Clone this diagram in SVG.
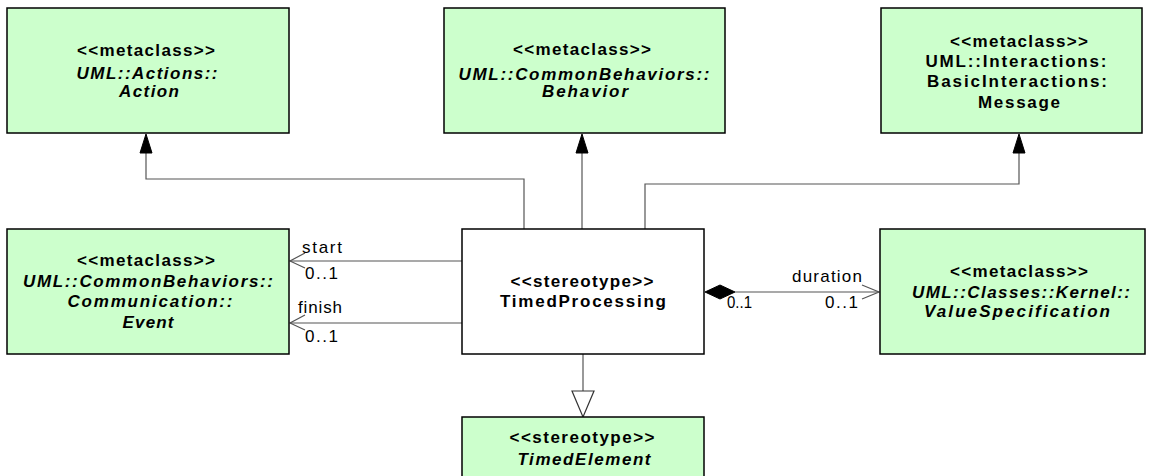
<svg xmlns="http://www.w3.org/2000/svg" width="1149" height="476" viewBox="0 0 1149 476">
<style>
.box{fill:#CCFFCC;stroke:#000;stroke-width:1.5}
.wbox{fill:#fff;stroke:#000;stroke-width:1.5}
.t{font-family:"Liberation Sans",Arial,sans-serif;font-size:17px;font-weight:bold;text-anchor:middle;fill:#000}
.i{font-style:italic}
.lbl{font-family:"Liberation Sans",Arial,sans-serif;font-size:17px;fill:#000}
.ln{fill:none;stroke:#555;stroke-width:1.2}
.fill{fill:#000;stroke:#000;stroke-width:1}
.hollow{fill:#fff;stroke:#333;stroke-width:1.2}
</style>
<rect width="1149" height="476" fill="#fff"/>
<g id="connectors">
  <polyline class="ln" points="524,229 524,179 146,179 146,150"/>
  <polygon class="fill" points="146,134 140,153 152,153"/>
  <line class="ln" x1="582" y1="229" x2="582" y2="150"/>
  <polygon class="fill" points="582,134 576,153 588,153"/>
  <polyline class="ln" points="645,229 645,184 1019,184 1019,150"/>
  <polygon class="fill" points="1019,134 1013,153 1025,153"/>
  <line class="ln" x1="462" y1="261" x2="290" y2="261"/>
  <polyline class="ln" points="305,253 290,261 305,268"/>
  <text class="lbl" x="302" y="253" textLength="40" lengthAdjust="spacing">start</text>
  <text class="lbl" x="305" y="279" textLength="33" lengthAdjust="spacing">0..1</text>
  <line class="ln" x1="462" y1="323" x2="290" y2="323"/>
  <polyline class="ln" points="305,315 290,323 305,330"/>
  <text class="lbl" x="298" y="313" textLength="44" lengthAdjust="spacing">finish</text>
  <text class="lbl" x="305" y="342" textLength="33" lengthAdjust="spacing">0..1</text>
  <line class="ln" x1="735" y1="292" x2="879" y2="292"/>
  <polygon class="fill" points="705,292 720,285 735,292 720,299"/>
  <polyline class="ln" points="862,285 879,292 862,299"/>
  <text class="lbl" x="792" y="282" textLength="70" lengthAdjust="spacing">duration</text>
  <text class="lbl" x="727" y="308" textLength="25" lengthAdjust="spacingAndGlyphs">0..1</text>
  <text class="lbl" x="825" y="308" textLength="33" lengthAdjust="spacing">0..1</text>
  <line class="ln" x1="583" y1="354" x2="583" y2="391"/>
  <polygon class="hollow" points="572,391 594,391 583,417"/>
</g>
<g id="action">
  <rect class="box" x="7" y="8" width="282" height="125"/>
  <text class="t" x="146" y="56" textLength="138" lengthAdjust="spacing">&lt;&lt;metaclass&gt;&gt;</text>
  <text class="t i" x="147" y="79" textLength="141" lengthAdjust="spacing">UML::Actions::</text>
  <text class="t i" x="149" y="97" textLength="60" lengthAdjust="spacing">Action</text>
</g>
<g id="behavior">
  <rect class="box" x="444" y="8" width="281" height="125"/>
  <text class="t" x="582" y="55" textLength="138" lengthAdjust="spacing">&lt;&lt;metaclass&gt;&gt;</text>
  <text class="t i" x="584" y="80" textLength="251" lengthAdjust="spacing">UML::CommonBehaviors::</text>
  <text class="t i" x="585" y="97" textLength="86" lengthAdjust="spacing">Behavior</text>
</g>
<g id="message">
  <rect class="box" x="881" y="8" width="261" height="125"/>
  <text class="t" x="1019" y="47" textLength="138" lengthAdjust="spacing">&lt;&lt;metaclass&gt;&gt;</text>
  <text class="t" x="1016" y="67" textLength="181" lengthAdjust="spacing">UML::Interactions:</text>
  <text class="t" x="1017" y="87" textLength="180" lengthAdjust="spacing">BasicInteractions:</text>
  <text class="t" x="1019" y="108" textLength="82" lengthAdjust="spacing">Message</text>
</g>
<g id="event">
  <rect class="box" x="7" y="229" width="282" height="125"/>
  <text class="t" x="146" y="266" textLength="138" lengthAdjust="spacing">&lt;&lt;metaclass&gt;&gt;</text>
  <text class="t i" x="148" y="287" textLength="250" lengthAdjust="spacing">UML::CommonBehaviors::</text>
  <text class="t i" x="150" y="307" textLength="165" lengthAdjust="spacing">Communication::</text>
  <text class="t i" x="148" y="328" textLength="51" lengthAdjust="spacing">Event</text>
</g>
<g id="timedprocessing">
  <rect class="wbox" x="462" y="229" width="242" height="125"/>
  <text class="t" x="582" y="287" textLength="143" lengthAdjust="spacing">&lt;&lt;stereotype&gt;&gt;</text>
  <text class="t" x="583" y="307" textLength="166" lengthAdjust="spacing">TimedProcessing</text>
</g>
<g id="valuespecification">
  <rect class="box" x="880" y="229" width="265" height="125"/>
  <text class="t" x="1019" y="277" textLength="138" lengthAdjust="spacing">&lt;&lt;metaclass&gt;&gt;</text>
  <text class="t i" x="1021" y="298" textLength="218" lengthAdjust="spacing">UML::Classes::Kernel::</text>
  <text class="t i" x="1017" y="317" textLength="186" lengthAdjust="spacing">ValueSpecification</text>
</g>
<g id="timedelement">
  <rect class="box" x="462" y="417" width="242" height="70"/>
  <text class="t" x="582" y="443" textLength="145" lengthAdjust="spacing">&lt;&lt;stereotype&gt;&gt;</text>
  <text class="t i" x="584" y="465" textLength="133" lengthAdjust="spacing">TimedElement</text>
</g>
</svg>
